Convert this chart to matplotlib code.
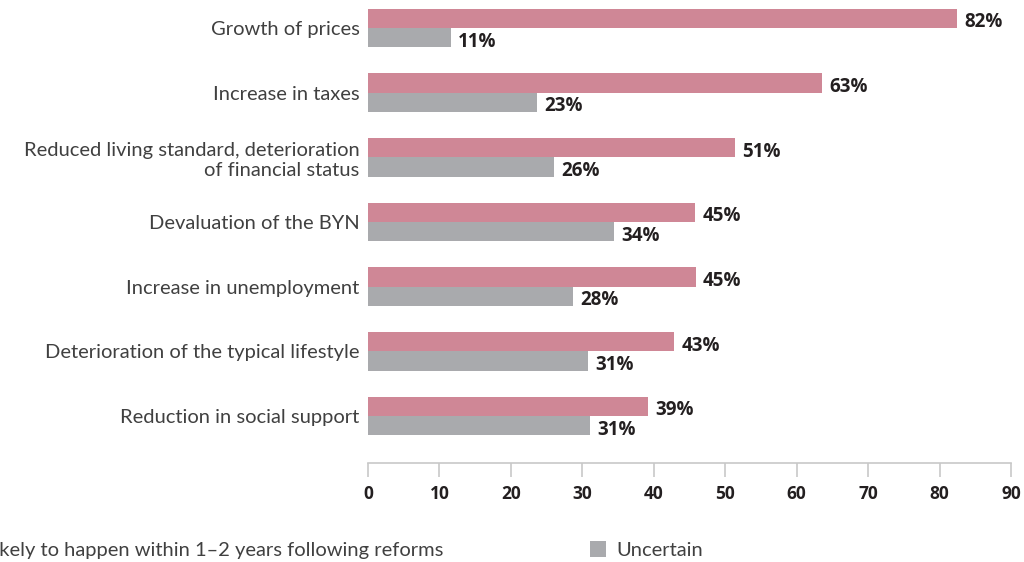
import matplotlib
matplotlib.use("Agg")
import matplotlib.pyplot as plt
import numpy as np

categories = [
    "Growth of prices",
    "Increase in taxes",
    "Reduced living standard, deterioration\nof financial status",
    "Devaluation of the BYN",
    "Increase in unemployment",
    "Deterioration of the typical lifestyle",
    "Reduction in social support",
]
likely = [82.5, 63.6, 51.3, 45.8, 45.9, 42.9, 39.2]
uncertain = [11.6, 23.7, 26.0, 34.4, 28.7, 30.8, 31.1]
likely_labels = ["82%", "63%", "51%", "45%", "45%", "43%", "39%"]
uncertain_labels = ["11%", "23%", "26%", "34%", "28%", "31%", "31%"]
series_names = ["Likely to happen within 1\u20132 years following reforms", "Uncertain"]

pink = "#cf8796"
grey = "#a9aaad"
text_col = "#404040"
num_col = "#231f20"
num_font = ["Open Sans", "DejaVu Sans"]

plt.rcParams["font.family"] = ["Lato", "DejaVu Sans"]

fig = plt.figure(figsize=(10.24, 5.62), dpi=100)
ax = fig.add_axes([368 / 1024, 1 - 463 / 562, 643 / 1024, 463 / 562])

y = np.arange(len(categories))
h = 0.3
ax.barh(y - h / 2, likely, height=h, color=pink, label=series_names[0])
ax.barh(y + h / 2, uncertain, height=h, color=grey, label=series_names[1])

# value labels, sitting a touch below the bar centre like the original
for i in range(len(categories)):
    ax.text(likely[i] + 1.0, y[i] - h / 2 + 0.06, likely_labels[i], va="center", ha="left",
            fontsize=13.5, fontweight="bold", color=num_col, family=num_font)
    ax.text(uncertain[i] + 1.0, y[i] + h / 2 + 0.06, uncertain_labels[i], va="center", ha="left",
            fontsize=13.5, fontweight="bold", color=num_col, family=num_font)

ax.set_xlim(0, 90)
ax.set_ylim((463 - 28) / 64.68, -28 / 64.68)
ax.set_xticks(range(0, 91, 10))
ax.set_yticks(y)
ax.set_yticklabels(categories, fontsize=14.5, color=text_col, linespacing=1.25)

for s in ["top", "right", "left"]:
    ax.spines[s].set_visible(False)
ax.spines["bottom"].set_color("#c8c8c8")
ax.spines["bottom"].set_linewidth(1.2)
ax.tick_params(axis="y", length=0, pad=6)
ax.tick_params(axis="x", length=10, width=1.2, color="#c8c8c8", pad=6,
               labelsize=12.5, labelcolor=num_col)
for lab in ax.get_xticklabels():
    lab.set_fontweight("bold")
    lab.set_family(num_font)

fig.legend(loc="center right", bbox_to_anchor=(721 / 1024, 1 - 550 / 562), ncol=2,
           frameon=False, handlelength=0.8, handleheight=0.8,
           handletextpad=0.5, columnspacing=7.3, labelcolor=text_col,
           prop={"size": 14.5})

fig.savefig("out.png", dpi=100)
